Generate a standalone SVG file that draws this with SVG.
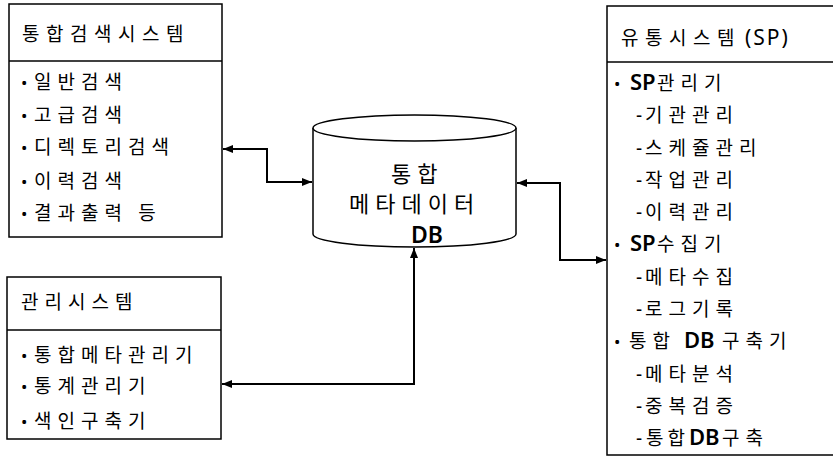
<svg xmlns="http://www.w3.org/2000/svg" width="833" height="457" viewBox="0 0 833 457">
<defs>
<style>
.box{fill:#fff;stroke:#000;stroke-width:1.5}
.div{stroke:#000;stroke-width:1.5}
.t{font-family:"Noto Sans CJK KR","Noto Sans",sans-serif;font-size:19px;letter-spacing:6px;fill:#000}
.h{font-family:"Noto Sans CJK KR","Noto Sans",sans-serif;font-size:19px;letter-spacing:6.5px;fill:#000}
.b{font-family:"Noto Sans",sans-serif;font-size:17px;fill:#000}
.d{font-family:"Noto Sans",sans-serif;font-size:19px;fill:#000}
.l{font-family:"Noto Sans",sans-serif;font-size:22px;font-weight:600;fill:#000}
.p{font-family:"Noto Sans",sans-serif;font-size:21px;letter-spacing:2px;fill:#000}
.c{font-family:"Noto Sans CJK KR","Noto Sans",sans-serif;font-size:22px;letter-spacing:6px;fill:#000}
.conn{fill:none;stroke:#000;stroke-width:2}
</style>
<marker id="arr" markerWidth="10" markerHeight="8" refX="10" refY="4" orient="auto-start-reverse" markerUnits="userSpaceOnUse">
<path d="M0,0 L10,4 L0,8 Z" fill="#000"/>
</marker>
</defs>
<rect width="833" height="457" fill="#fff"/>

<g id="search-system">
<rect class="box" x="9" y="4" width="213" height="233"/>
<line class="div" x1="9" y1="61" x2="222" y2="61"/>
<text class="h" x="22" y="41">통합검색시스템</text>
<text class="b" x="21" y="89">•</text><text class="t" x="34" y="89">일반검색</text>
<text class="b" x="21" y="122">•</text><text class="t" x="34" y="122">고급검색</text>
<text class="b" x="21" y="154">•</text><text class="t" x="34" y="154">디렉토리검색</text>
<text class="b" x="21" y="188">•</text><text class="t" x="34" y="188">이력검색</text>
<text class="b" x="21" y="220">•</text><text class="t" x="34" y="220">결과출력 등</text>
</g>

<g id="admin-system">
<rect class="box" x="7" y="277" width="214" height="162"/>
<line class="div" x1="7" y1="330" x2="221" y2="330"/>
<text class="t" x="21" y="309">관리시스템</text>
<text class="b" x="21" y="362">•</text><text class="t" x="34" y="362">통합메타관리기</text>
<text class="b" x="21" y="393">•</text><text class="t" x="34" y="393">통계관리기</text>
<text class="b" x="21" y="428">•</text><text class="t" x="34" y="428">색인구축기</text>
</g>

<g id="meta-db">
<path d="M313,128 L313,234 A101.5,13 0 0 0 516,234 L516,128" fill="#fff" stroke="#000" stroke-width="1.5"/>
<ellipse cx="414.5" cy="128" rx="101.5" ry="13" fill="#fff" stroke="#000" stroke-width="1.5"/>
<text class="c" x="391" y="182">통합</text>
<text class="c" x="349" y="212">메타데이터</text>
<text class="l" x="411" y="243" style="font-size:23px">DB</text>
</g>

<g id="distribution-system">
<rect class="box" x="607" y="6" width="240" height="449"/>
<line class="div" x1="607" y1="62" x2="833" y2="62"/>
<text class="h" x="621" y="45">유통시스템</text><text class="p" x="745" y="45">(SP)</text>
<text class="b" x="614" y="90">•</text><text class="l" x="630" y="90">SP</text><text class="t" x="657" y="90">관리기</text>
<text class="d" x="636" y="122">-</text><text class="t" x="645" y="122">기관관리</text>
<text class="d" x="636" y="155">-</text><text class="t" x="645" y="155">스케쥴관리</text>
<text class="d" x="636" y="187">-</text><text class="t" x="645" y="187">작업관리</text>
<text class="d" x="636" y="219">-</text><text class="t" x="645" y="219">이력관리</text>
<text class="b" x="614" y="251">•</text><text class="l" x="630" y="251">SP</text><text class="t" x="657" y="251">수집기</text>
<text class="d" x="636" y="284">-</text><text class="t" x="645" y="284">메타수집</text>
<text class="d" x="636" y="316">-</text><text class="t" x="645" y="316">로그기록</text>
<text class="b" x="614" y="348">•</text><text class="t" x="629" y="348">통합</text><text class="l" x="684" y="348">DB</text><text class="t" x="722" y="348">구축기</text>
<text class="d" x="636" y="381">-</text><text class="t" x="645" y="381">메타분석</text>
<text class="d" x="636" y="413">-</text><text class="t" x="645" y="413">중복검증</text>
<text class="d" x="636" y="445">-</text><text class="t" x="646" y="445" style="letter-spacing:4px">통합</text><text class="l" x="689" y="445">DB</text><text class="t" x="722" y="445">구축</text>
</g>

<g id="connectors">
<path class="conn" d="M223,149 L267,149 L267,182 L312,182" marker-start="url(#arr)" marker-end="url(#arr)"/>
<path class="conn" d="M414,248 L414,384 L222,384" marker-start="url(#arr)" marker-end="url(#arr)"/>
<path class="conn" d="M517,183 L560,183 L560,260 L606,260" marker-start="url(#arr)" marker-end="url(#arr)"/>
</g>
</svg>
